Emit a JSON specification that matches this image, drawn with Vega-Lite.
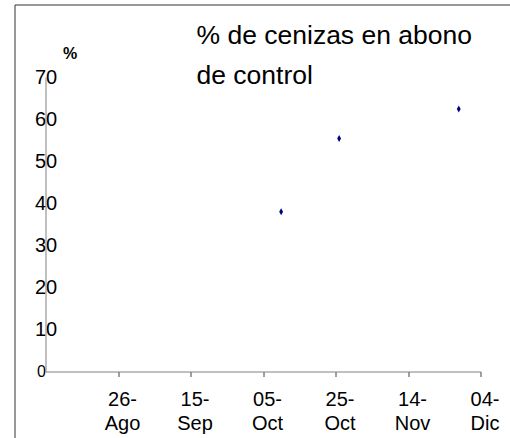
{
  "$schema": "https://vega.github.io/schema/vega-lite/v6.json",
  "width": 500,
  "height": 440,
  "autosize": {"type": "none"},
  "padding": {"left": 14.5, "top": 4.5, "right": 0, "bottom": 0},
  "background": "white",
  "view": {"stroke": "#333333", "strokeWidth": 1},
  "config": {
    "font": "Liberation Sans"
  },
  "title": {
    "text": ["% de cenizas en abono", "de control"],
    "anchor": "start",
    "frame": "group",
    "font": "Liberation Sans",
    "fontSize": 26.5,
    "fontWeight": "normal",
    "color": "#000000",
    "baseline": "top",
    "lineHeight": 40,
    "offset": 0,
    "dx": 182,
    "dy": 85
  },
  "data": {
    "values": [
      {"fecha": "2003-10-10", "cenizas": 38.0},
      {"fecha": "2003-10-26", "cenizas": 55.4},
      {"fecha": "2003-11-28", "cenizas": 62.4}
    ]
  },
  "mark": {
    "type": "point",
    "shape": "M0,-1L0.55,0L0,1L-0.55,0Z",
    "filled": true,
    "color": "#000080",
    "opacity": 1,
    "size": 49
  },
  "encoding": {
    "x": {
      "field": "fecha",
      "type": "temporal",
      "scale": {
        "type": "utc",
        "domain": [
          {"year": 2003, "month": 8, "date": 6, "utc": true},
          {"year": 2003, "month": 12, "date": 4, "utc": true}
        ],
        "range": [31, 466],
        "nice": false
      },
      "axis": {
        "orient": "bottom",
        "offset": -73,
        "title": null,
        "grid": false,
        "values": [
          {"year": 2003, "month": 8, "date": 26, "utc": true},
          {"year": 2003, "month": 9, "date": 15, "utc": true},
          {"year": 2003, "month": 10, "date": 5, "utc": true},
          {"year": 2003, "month": 10, "date": 25, "utc": true},
          {"year": 2003, "month": 11, "date": 14, "utc": true},
          {"year": 2003, "month": 12, "date": 4, "utc": true}
        ],
        "labelExpr": "[utcFormat(datum.value, '%d') + '-', ['Ene','Feb','Mar','Abr','May','Jun','Jul','Ago','Sep','Oct','Nov','Dic'][utcmonth(datum.value)]]",
        "labelFont": "Liberation Sans",
        "labelFontSize": 20,
        "labelColor": "#000000",
        "labelLineHeight": 24,
        "labelBaseline": "top",
        "labelAlign": "center",
        "labelPadding": 13,
        "labelOffset": 4,
        "labelOverlap": false,
        "labelBound": false,
        "labelFlush": false,
        "domainColor": "#808080",
        "domainWidth": 1,
        "tickColor": "#404040",
        "tickSize": 5,
        "tickWidth": 1
      }
    },
    "y": {
      "field": "cenizas",
      "type": "quantitative",
      "scale": {"domain": [0, 70], "range": [367, 72.5], "nice": false, "zero": true},
      "axis": {
        "orient": "left",
        "offset": -31,
        "values": [0, 10, 20, 30, 40, 50, 60, 70],
        "grid": false,
        "ticks": false,
        "domainColor": "#808080",
        "domainWidth": 1,
        "labelFont": "Liberation Sans",
        "labelFontSize": {"condition": {"test": "datum.value == 0", "value": 16}, "value": 20},
        "labelAlign": {"condition": {"test": "datum.value == 0", "value": "right"}, "value": "center"},
        "labelBaseline": "middle",
        "labelColor": "#000000",
        "labelPadding": 0,
        "labelOverlap": false,
        "labelBound": false,
        "labelFlush": false,
        "title": "%",
        "titleFont": "Liberation Sans",
        "titleFontSize": 16,
        "titleFontWeight": "bold",
        "titleColor": "#000000",
        "titleAngle": 0,
        "titleAlign": "center",
        "titleBaseline": "middle",
        "titleX": 24,
        "titleY": 49
      }
    }
  }
}
